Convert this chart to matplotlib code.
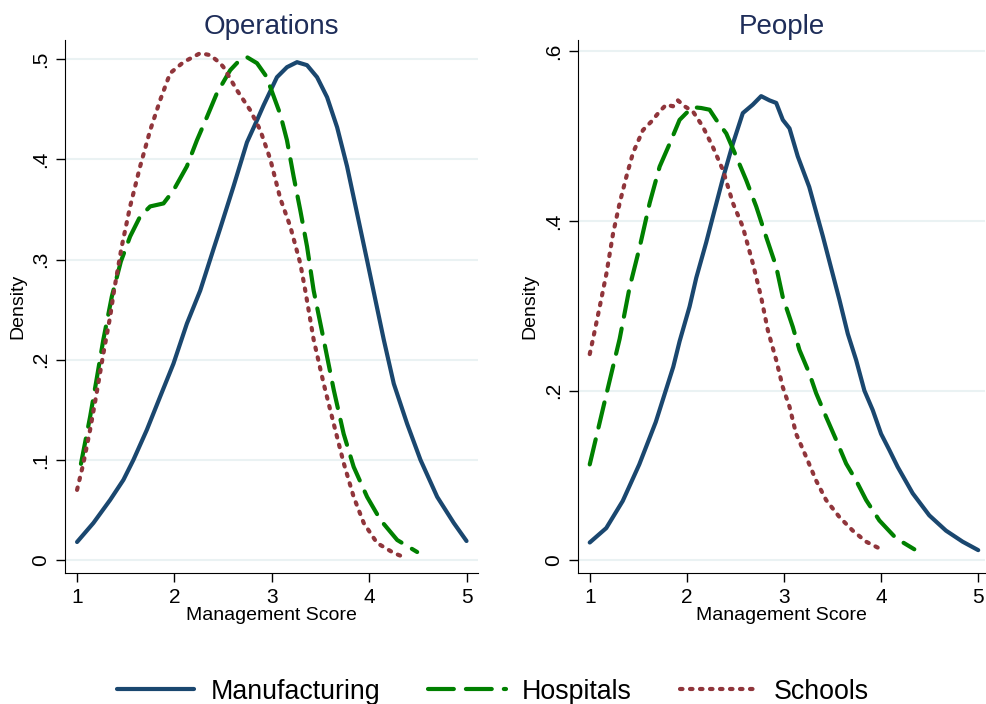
import matplotlib
matplotlib.use("Agg")
import matplotlib.pyplot as plt
from matplotlib.ticker import FuncFormatter

plt.rcParams["font.family"] = ["Liberation Sans", "DejaVu Sans"]

# Operations panel (density)
ops_manu_x = [1.0, 1.168, 1.34, 1.476, 1.579, 1.717, 1.853, 1.99, 2.128, 2.265, 2.4, 2.47,
              2.607, 2.745, 2.848, 2.916, 3.053, 3.156, 3.259, 3.362, 3.465, 3.568, 3.671,
              3.773, 3.876, 3.979, 4.15, 4.253, 4.39, 4.527, 4.699, 4.869, 5.0]
ops_manu_y = [0.018, 0.037, 0.06, 0.08, 0.1, 0.13, 0.163, 0.196, 0.236, 0.269, 0.31, 0.331,
              0.373, 0.417, 0.439, 0.454, 0.482, 0.492, 0.497, 0.494, 0.482, 0.462, 0.432,
              0.393, 0.346, 0.299, 0.22, 0.176, 0.136, 0.1, 0.063, 0.037, 0.019]
ops_hosp_x = [1.04, 1.134, 1.2, 1.27, 1.357, 1.45, 1.545, 1.648, 1.751, 1.888, 1.99, 2.128,
              2.231, 2.333, 2.436, 2.573, 2.66, 2.745, 2.848, 2.935, 2.985, 3.087, 3.156,
              3.224, 3.293, 3.362, 3.43, 3.533, 3.636, 3.738, 3.841, 3.979, 4.116, 4.288,
              4.493]
ops_hosp_y = [0.096, 0.143, 0.18, 0.22, 0.263, 0.298, 0.323, 0.343, 0.353, 0.356, 0.369,
              0.393, 0.419, 0.442, 0.466, 0.489, 0.498, 0.502, 0.496, 0.484, 0.472, 0.445,
              0.419, 0.383, 0.349, 0.313, 0.269, 0.22, 0.17, 0.126, 0.093, 0.063, 0.04,
              0.02, 0.008]
ops_sch_x = [1.0, 1.065, 1.134, 1.2, 1.27, 1.34, 1.38, 1.459, 1.545, 1.648, 1.751, 1.853,
             1.956, 2.093, 2.265, 2.368, 2.47, 2.504, 2.642, 2.779, 2.882, 2.985, 3.087,
             3.19, 3.293, 3.344, 3.43, 3.533, 3.636, 3.738, 3.841, 3.944, 4.081, 4.253,
             4.355]
ops_sch_y = [0.07, 0.0965, 0.13, 0.166, 0.206, 0.243, 0.269, 0.313, 0.353, 0.393, 0.429,
             0.459, 0.486, 0.497, 0.506, 0.504, 0.496, 0.492, 0.469, 0.449, 0.429, 0.4,
             0.361, 0.333, 0.296, 0.269, 0.22, 0.176, 0.136, 0.097, 0.063, 0.037, 0.017,
             0.007, 0.003]

# People panel
ppl_manu_x = [1.0, 1.17, 1.34, 1.51, 1.68, 1.86, 1.925, 2.028, 2.097, 2.2, 2.268, 2.371,
              2.474, 2.576, 2.679, 2.765, 2.851, 2.92, 2.988, 3.057, 3.142, 3.26, 3.4,
              3.571, 3.657, 3.743, 3.828, 3.914, 4.0, 4.085, 4.171, 4.325, 4.496, 4.668,
              4.839, 5.0]
ppl_manu_y = [0.021, 0.038, 0.07, 0.113, 0.163, 0.228, 0.258, 0.299, 0.333, 0.375, 0.405,
              0.45, 0.491, 0.527, 0.537, 0.547, 0.542, 0.539, 0.519, 0.509, 0.476, 0.44,
              0.382, 0.307, 0.267, 0.236, 0.2, 0.177, 0.149, 0.13, 0.11, 0.079, 0.053,
              0.035, 0.022, 0.012]
ppl_hosp_x = [1.0, 1.17, 1.308, 1.411, 1.514, 1.617, 1.72, 1.823, 1.925, 1.994, 2.062,
              2.148, 2.234, 2.303, 2.406, 2.508, 2.611, 2.714, 2.817, 2.92, 2.988, 3.091,
              3.159, 3.262, 3.331, 3.434, 3.537, 3.64, 3.743, 3.846, 3.982, 4.154, 4.342]
ppl_hosp_y = [0.113, 0.195, 0.261, 0.322, 0.369, 0.421, 0.464, 0.491, 0.519, 0.527, 0.534,
              0.533, 0.531, 0.519, 0.503, 0.476, 0.448, 0.417, 0.381, 0.346, 0.31, 0.275,
              0.248, 0.22, 0.197, 0.169, 0.142, 0.114, 0.094, 0.071, 0.047, 0.026, 0.013]
ppl_sch_x = [1.0, 1.034, 1.103, 1.172, 1.24, 1.308, 1.377, 1.445, 1.548, 1.634, 1.72,
             1.788, 1.857, 1.908, 1.977, 2.062, 2.165, 2.268, 2.371, 2.474, 2.576, 2.679,
             2.765, 2.834, 2.92, 2.988, 3.057, 3.125, 3.228, 3.331, 3.434, 3.571, 3.708,
             3.845, 4.0]
ppl_sch_y = [0.243, 0.261, 0.299, 0.338, 0.385, 0.421, 0.452, 0.48, 0.507, 0.517, 0.529,
             0.537, 0.535, 0.542, 0.535, 0.529, 0.511, 0.487, 0.46, 0.421, 0.393, 0.35,
             0.31, 0.271, 0.236, 0.204, 0.181, 0.149, 0.122, 0.094, 0.071, 0.051, 0.035,
             0.022, 0.013]

labels = ["Manufacturing", "Hospitals", "Schools"]
colors = ["#1a476f", "#008000", "#90353b"]
dashes = [None, (6.2, 2.9), (0.6, 1.8)]

fig = plt.figure(figsize=(9.86, 7.04), dpi=100)
ax1 = fig.add_axes([0.066, 0.186, 0.419, 0.757])
ax2 = fig.add_axes([0.586, 0.186, 0.413, 0.757])


def fmt(v, pos):
    if abs(v) < 1e-9:
        return "0"
    return ("%g" % v).lstrip("0")


panels = [
    (ax1, "Operations", [(ops_manu_x, ops_manu_y), (ops_hosp_x, ops_hosp_y), (ops_sch_x, ops_sch_y)],
     [0, 0.1, 0.2, 0.3, 0.4, 0.5], (-0.013, 0.519), (0.877, 5.12)),
    (ax2, "People", [(ppl_manu_x, ppl_manu_y), (ppl_hosp_x, ppl_hosp_y), (ppl_sch_x, ppl_sch_y)],
     [0, 0.2, 0.4, 0.6], (-0.015, 0.613), (0.877, 5.07)),
]

handles = []
for ax, title, series, yt, ylim, xlim in panels:
    for yv in yt:
        ax.axhline(yv, color="#eaf2f3", lw=1.5, zorder=0)
    hs = []
    for (xs, ys), lab, c, d in zip(series, labels, colors, dashes):
        if d is None:
            h, = ax.plot(xs, ys, color=c, lw=3.0, label=lab,
                         solid_capstyle="round", solid_joinstyle="round")
        else:
            h, = ax.plot(xs, ys, color=c, lw=3.0, label=lab, dashes=d,
                         dash_capstyle="round", dash_joinstyle="round")
        hs.append(h)
    handles = hs
    ax.set_xlim(*xlim)
    ax.set_ylim(*ylim)
    ax.set_xticks([1, 2, 3, 4, 5])
    ax.set_yticks(yt)
    ax.yaxis.set_major_formatter(FuncFormatter(fmt))
    ax.tick_params(axis="both", labelsize=15, length=6.5, width=1, direction="out", pad=4)
    for lab in ax.get_yticklabels():
        lab.set_rotation(90)
        lab.set_va("center")
    ax.spines["top"].set_visible(False)
    ax.spines["right"].set_visible(False)
    ax.set_title(title, fontsize=20, color="#1e2d59", pad=1.5)
    ax.set_xlabel("Management Score", fontsize=14, labelpad=0)
    ax.set_ylabel("Density", fontsize=14, labelpad=4)

fig.legend(handles, labels, loc="lower center", ncol=3, frameon=False, fontsize=19.3,
           handlelength=2.9, handletextpad=0.6, columnspacing=1.8,
           bbox_to_anchor=(0.5, -0.035))

fig.savefig("out.png", dpi=100)
